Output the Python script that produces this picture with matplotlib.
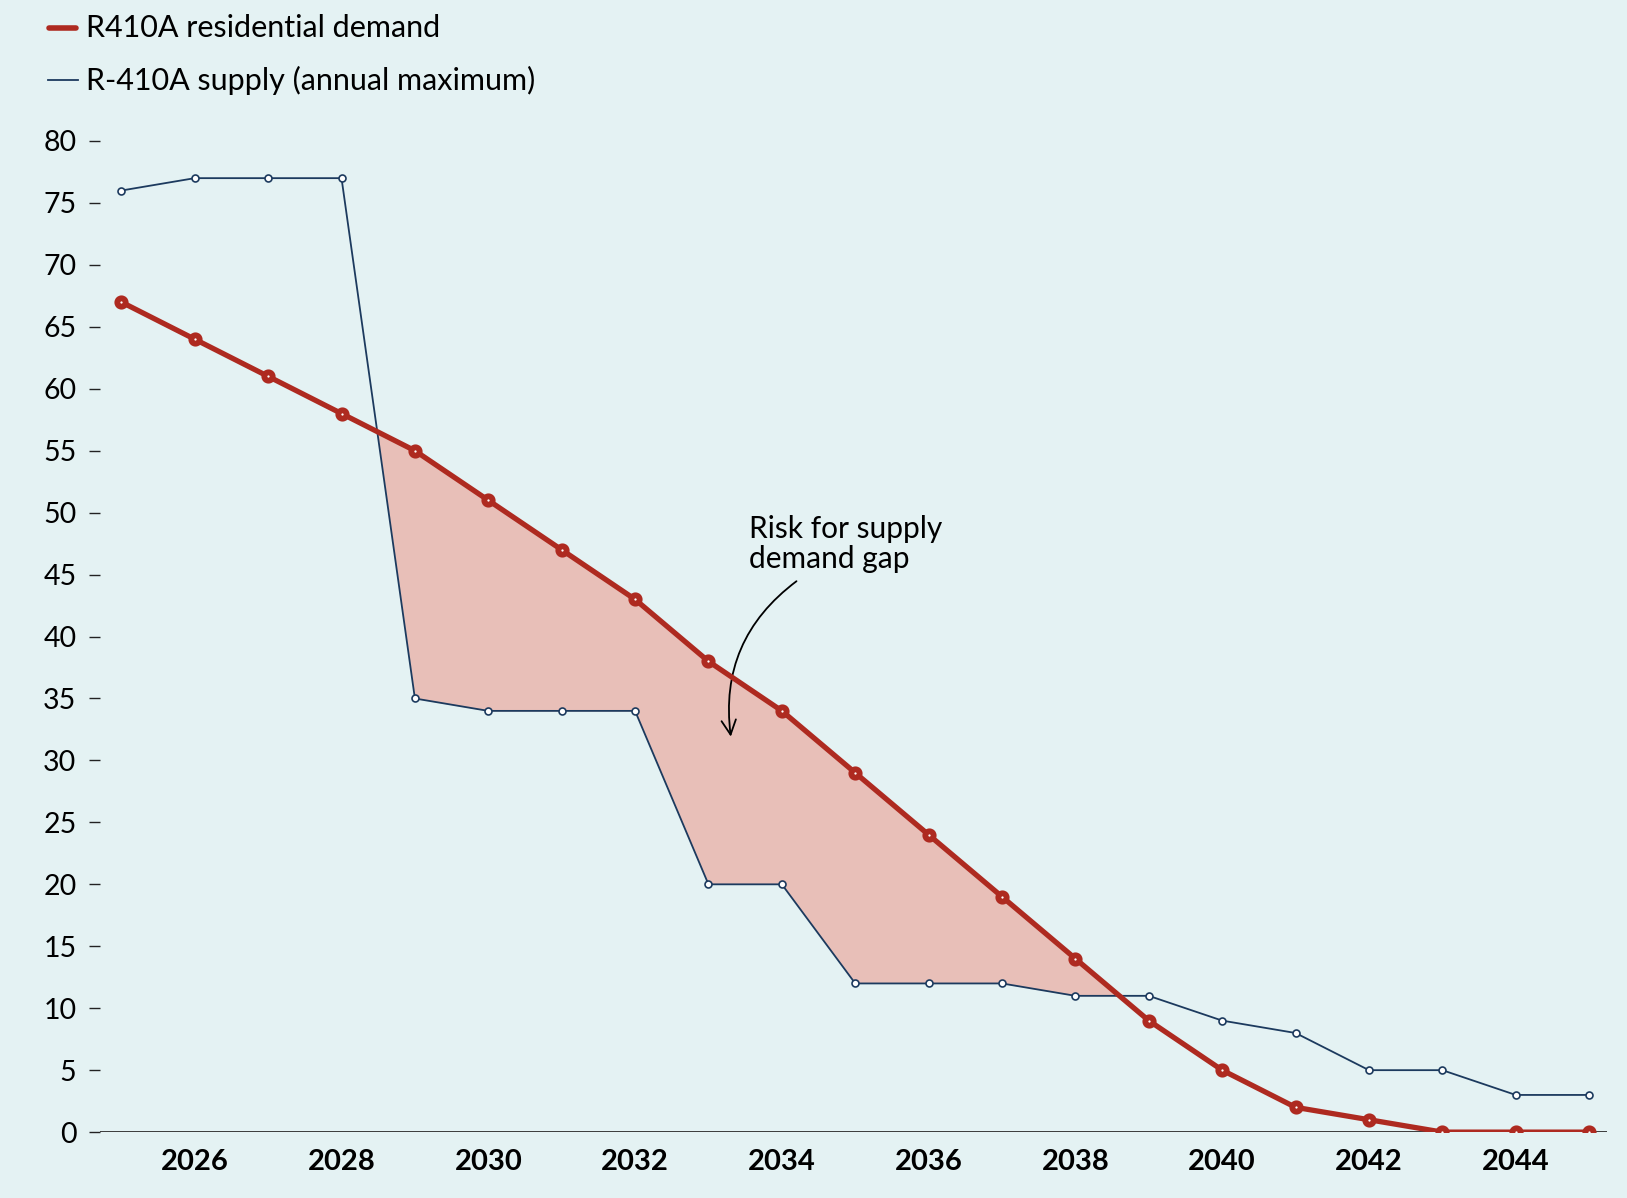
import numpy as np
import matplotlib.pyplot as plt

years = list(range(2025, 2046))
demand = [67, 64, 61, 58, 55, 51, 47, 43, 38, 34, 29, 24, 19, 14, 9, 5, 2, 1, 0, 0, 0]
supply = [76, 77, 77, 77, 35, 34, 34, 34, 20, 20, 12, 12, 12, 11, 11, 9, 8, 5, 5, 3, 3]
yticks = list(range(0, 81, 5))
xticks = list(range(2026, 2045, 2))

bg = "#E4F2F3"
red = "#AE2A20"
navy = "#1C3A5E"
fill = "#E8BFB8"

plt.rcParams['font.family'] = ['Lato', 'DejaVu Sans']

fig = plt.figure(figsize=(16.27, 11.98), dpi=100, facecolor=bg)
ax = fig.add_axes([0.0615, 0.055, 0.9265, 0.848])
ax.set_facecolor(bg)

x = np.array(years)
d = np.array(demand)
s = np.array(supply)
ax.fill_between(x, s, d, where=d > s, interpolate=True, color=fill, lw=0, zorder=1)

ax.axhline(0, color="#2b2b2b", lw=2, zorder=2)
ax.plot(x, s, color=navy, lw=1.3, marker='o', ms=5.0, mfc='white', mec=navy, mew=1.2,
        zorder=3, label="R-410A supply (annual maximum)")
ax.plot(x, d, color=red, lw=3.8, marker='o', ms=6.0, mfc='white', mec=red, mew=4.2,
        zorder=4, label="R410A residential demand")

ax.set_xlim(2024.71, 2045.25)
ax.set_ylim(0, 82)
ax.set_yticks(yticks)
ax.set_xticks(xticks)
ax.tick_params(axis='y', length=8, width=1, color='#222222', pad=9, labelsize=20.5)
ax.tick_params(axis='x', length=0, pad=12, labelsize=21)
for lab in ax.get_xticklabels():
    lab.set_fontweight('bold')
for sp in ['top', 'right', 'left', 'bottom']:
    ax.spines[sp].set_visible(False)

ax.text(2033.55, 49.8, "Risk for supply\ndemand gap", fontsize=21.5, va='top', ha='left',
        linespacing=1.08)
ax.annotate("", xy=(2033.31, 31.7), xytext=(2034.23, 44.6),
            arrowprops=dict(arrowstyle='->', color='black', lw=1.3,
                            connectionstyle="arc3,rad=0.3", mutation_scale=26))

# legend drawn manually in figure coords
fig.lines.append(plt.Line2D([49/1627, 76/1627], [1-28/1198, 1-28/1198], color=red, lw=4,
                            solid_capstyle='round', transform=fig.transFigure))
fig.lines.append(plt.Line2D([48/1627, 78/1627], [1-80/1198, 1-80/1198], color=navy, lw=1.3,
                            transform=fig.transFigure))
fig.text(86/1627, 1-28/1198, "R410A residential demand", fontsize=22, va='center')
fig.text(86/1627, 1-80/1198, "R-410A supply (annual maximum)", fontsize=22, va='center')

fig.savefig("out.png", dpi=100, facecolor=bg)
